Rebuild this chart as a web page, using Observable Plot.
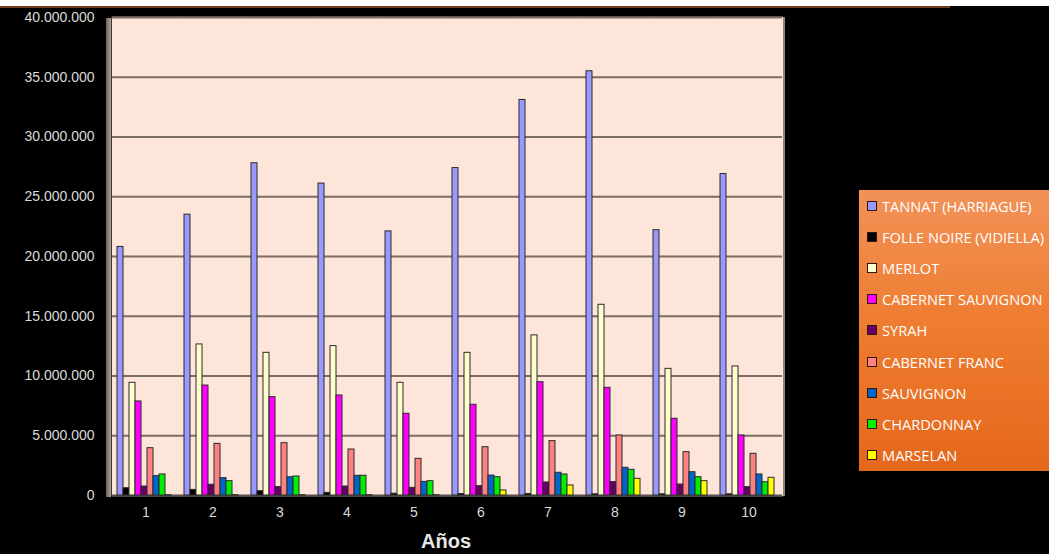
<!DOCTYPE html>
<html>
<head>
<meta charset="utf-8">
<script src="https://cdn.jsdelivr.net/npm/d3@7"></script>
<script src="https://cdn.jsdelivr.net/npm/@observablehq/plot@0.6"></script>
<style>
  html, body { margin: 0; padding: 0; background: #000; width: 1049px; height: 554px; overflow: hidden; position: relative; font-family: "Liberation Sans", Arial, sans-serif; }
  #top { height: 6px; background: #fff; }
  #topline { height: 2px; width: 950px; background: #6e3b1b; }
  #chart { position: absolute; left: 0; top: 8px; }
  #wall { position: absolute; left: 106px; top: 18px; width: 5px; height: 479px; background: linear-gradient(90deg, #6d625d, #b3a39a); }
  #rightedge { position: absolute; left: 783px; top: 17px; width: 2px; height: 479px; background: #8d8580; }
  #xtitle { position: absolute; left: 0; width: 892px; top: 530px; text-align: center; color: #e6e6e6; font-weight: bold; font-size: 20px; }
  #legend { position: absolute; left: 859px; top: 190px; width: 190px; height: 281px; background: linear-gradient(#f29258, #ee7b2e 50%, #e4671c); }
  .item { display: flex; align-items: center; height: 31.2px; color: #fff; font-family: "Open Sans", sans-serif; font-size: 14.6px; white-space: nowrap; }
  .sw { width: 8px; height: 8px; border: 1.5px solid #2a1a10; margin-left: 8px; margin-right: 5px; flex: none; }
</style>
</head>
<body>
<div id="top"></div>
<div id="topline"></div>
<div id="chart"></div>
<div id="wall"></div>
<div id="rightedge"></div>
<div id="xtitle">Años</div>
<div id="legend"></div>
<script>
// Years on the x axis
const years = [1, 2, 3, 4, 5, 6, 7, 8, 9, 10];

// Grape varieties, in legend / bar order
const varieties = [
  "TANNAT (HARRIAGUE)",
  "FOLLE NOIRE (VIDIELLA)",
  "MERLOT",
  "CABERNET SAUVIGNON",
  "SYRAH",
  "CABERNET FRANC",
  "SAUVIGNON",
  "CHARDONNAY",
  "MARSELAN"
];
const colors = ["#9999ff", "#000000", "#ffffcc", "#ff00ff", "#660066", "#ff8080", "#0066cc", "#00ee00", "#ffff00"];

// Yearly volumes per variety
const tannat     = [20800000, 23500000, 27800000, 26100000, 22100000, 27400000, 33100000, 35500000, 22200000, 26900000];
const folleNoire = [610000, 470000, 360000, 220000, 150000, 120000, 120000, 100000, 100000, 100000];
const merlot     = [9430000, 12640000, 11940000, 12500000, 9430000, 11940000, 13400000, 15960000, 10600000, 10800000];
const cabSauv    = [7870000, 9200000, 8230000, 8370000, 6840000, 7590000, 9480000, 9010000, 6420000, 5020000];
const syrah      = [750000, 900000, 700000, 750000, 640000, 780000, 1090000, 1120000, 920000, 700000];
const cabFranc   = [3960000, 4320000, 4380000, 3850000, 3070000, 4040000, 4550000, 5020000, 3630000, 3490000];
const sauvignon  = [1620000, 1450000, 1530000, 1650000, 1140000, 1670000, 1900000, 2320000, 1950000, 1760000];
const chardonnay = [1760000, 1200000, 1590000, 1650000, 1200000, 1530000, 1760000, 2150000, 1530000, 1110000];
const marselan   = [30000, 30000, 30000, 30000, 30000, 420000, 840000, 1400000, 1200000, 1480000];

// Y axis tick values
const yTicks = [0, 5000000, 10000000, 15000000, 20000000, 25000000, 30000000, 35000000, 40000000];

const series = [tannat, folleNoire, merlot, cabSauv, syrah, cabFranc, sauvignon, chardonnay, marselan];
const rows = [];
years.forEach((year, i) => {
  varieties.forEach((variety, j) => {
    rows.push({year, variety, value: series[j][i]});
  });
});

const fmt = d3.formatLocale({decimal: ",", thousands: ".", grouping: [3], currency: ["", ""]}).format(",d");

const chart = Plot.plot({
  width: 1049,
  height: 520,
  marginLeft: 110,
  marginRight: 265,
  marginTop: 9,
  marginBottom: 33,
  style: {background: "transparent", color: "#dadada", fontSize: "14px", fontFamily: "'Liberation Sans', Arial, sans-serif"},
  facet: {data: rows, x: "year"},
  fx: {domain: years, padding: 0, label: null, axis: "bottom", tickSize: 0, tickPadding: 12},
  x: {domain: varieties, axis: null, paddingInner: 0, paddingOuter: 0.72, align: 0.35},
  y: {domain: [0, 40000000], ticks: yTicks, tickFormat: fmt, tickSize: 0, tickPadding: 18, label: null},
  color: {domain: varieties, range: colors},
  marks: [
    // peach back wall; the stroke in the same colour hides seams between facets
    Plot.frame({fill: "#fee5d9", stroke: "#fee5d9", strokeWidth: 1.5}),
    Plot.ruleY(yTicks.filter(v => v > 0), {stroke: "#7c6d65", strokeWidth: 2}),
    Plot.ruleY([0], {stroke: "#5a5250", strokeWidth: 2}),
    Plot.barY(rows, {x: "variety", y: "value", fill: "variety", stroke: "#2a2a2a", strokeWidth: 1})
  ]
});
document.getElementById("chart").appendChild(chart);

// Legend
const legend = document.getElementById("legend");
varieties.forEach((v, i) => {
  const item = document.createElement("div");
  item.className = "item";
  const sw = document.createElement("span");
  sw.className = "sw";
  sw.style.background = colors[i];
  const label = document.createElement("span");
  label.textContent = v;
  item.appendChild(sw);
  item.appendChild(label);
  legend.appendChild(item);
});
</script>
</body>
</html>
